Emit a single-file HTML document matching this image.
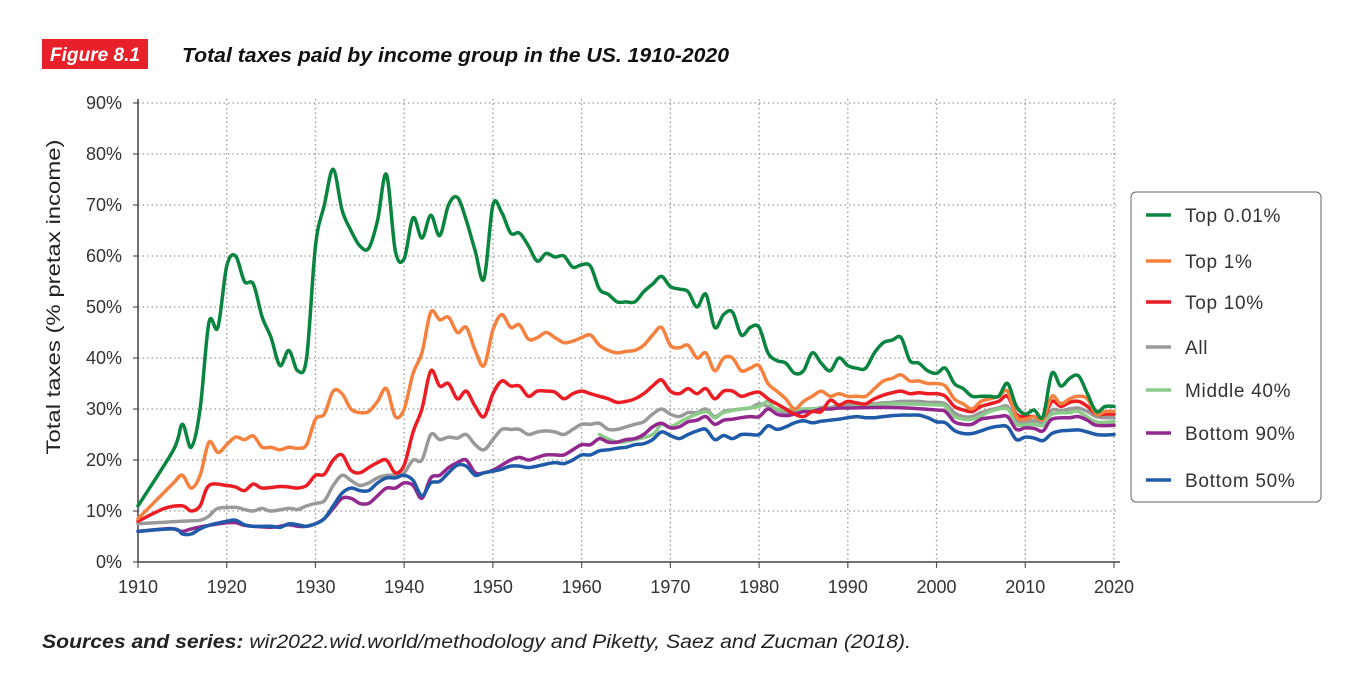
<!DOCTYPE html>
<html><head><meta charset="utf-8">
<style>
body{margin:0;background:#fff;width:1346px;height:682px;overflow:hidden;font-family:"Liberation Sans",sans-serif;}
svg{position:absolute;left:0;top:0}
</style></head>
<body>
<svg id="c" width="1346" height="682">
<rect x="42" y="39" width="106" height="30" fill="#e8202a"/>
<text x="95" y="61" fill="#fff" font-size="19" font-weight="bold" font-style="italic" text-anchor="middle" textLength="90">Figure 8.1</text>
<text x="182" y="62" fill="#111" font-size="20" font-weight="bold" font-style="italic" textLength="547" lengthAdjust="spacingAndGlyphs">Total taxes paid by income group in the US. 1910-2020</text>
<text transform="translate(60,297) rotate(-90)" font-size="19" fill="#222" text-anchor="middle" textLength="315" lengthAdjust="spacingAndGlyphs">Total taxes (% pretax income)</text>
<text x="42" y="648" font-size="19" fill="#222" font-style="italic" textLength="869" lengthAdjust="spacingAndGlyphs"><tspan font-weight="bold">Sources and series:</tspan> wir2022.wid.world/methodology and Piketty, Saez and Zucman (2018).</text>
<g id="grid"></g><g id="lines"></g>
<rect x="1131" y="192" width="190" height="310" rx="5" fill="#fff" stroke="#666" stroke-width="1"/>
<g id="leg"></g>
</svg>
<script>
const yTicks=[0,10,20,30,40,50,60,70,80,90];
const xTicks=[1910,1920,1930,1940,1950,1960,1970,1980,1990,2000,2010,2020];
const top001Y=[1910,1914,1915,1916,1917,1918,1919,1920,1921,1922,1923,1924,1925,1926,1927,1928,1929,1930,1931,1932,1933,1934,1935,1936,1937,1938,1939,1940,1941,1942,1943,1944,1945,1946,1947,1948,1949,1950,1951,1952,1953,1954,1955,1956,1957,1958,1959,1960,1961,1962,1963,1964,1965,1966,1967,1968,1969,1970,1971,1972,1973,1974,1975,1976,1977,1978,1979,1980,1981,1982,1983,1984,1985,1986,1987,1988,1989,1990,1991,1992,1993,1994,1995,1996,1997,1998,1999,2000,2001,2002,2003,2004,2005,2006,2007,2008,2009,2010,2011,2012,2013,2014,2015,2016,2017,2018,2019,2020];
const top001V=[11,22,27,22.5,30,47,46,58,60,55,54.5,48,44,38.5,41.5,37.5,40,62,70,77,69,65,62,61.5,67,76,61,59.5,67.5,63.5,68,64,70,71.5,67,61,55.5,70,68.5,64.5,64.5,62,59,60.5,59.8,60,57.8,58.3,58,53.5,52.5,51,51,51,53,54.5,56,54,53.5,53,50,52.5,46,48.5,49,44.5,46,46,41,39.5,39,37,37.5,41,39,37.5,40,38.5,38,38,41,43,43.5,44,39.5,39,37.5,37,38,35,34,32.5,32.5,32.5,32.5,35,30.5,29,29.8,28.5,37,34.5,36,36.5,33,29.5,30.5,30.5];
const top1Y=[1910,1912,1914,1915,1916,1917,1918,1919,1920,1921,1922,1923,1924,1925,1926,1927,1928,1929,1930,1931,1932,1933,1934,1935,1936,1937,1938,1939,1940,1941,1942,1943,1944,1945,1946,1947,1948,1949,1950,1951,1952,1953,1954,1955,1956,1957,1958,1959,1960,1961,1962,1963,1964,1965,1966,1967,1968,1969,1970,1971,1972,1973,1974,1975,1976,1977,1978,1979,1980,1981,1982,1983,1984,1985,1986,1987,1988,1989,1990,1991,1992,1993,1994,1995,1996,1997,1998,1999,2000,2001,2002,2003,2004,2005,2006,2007,2008,2009,2010,2011,2012,2013,2014,2015,2016,2017,2018,2019,2020];
const top1V=[8.5,12,15.5,17,14.5,17,23.5,21.5,23,24.5,24,24.7,22.5,22.5,22,22.5,22.3,23,28,29,33.5,33,30,29.3,29.5,31.5,34,28.5,30,37,41,49,47.5,48,45,46,41.5,38.5,45.5,48.5,46,46.5,43.7,44,45,44,43,43.3,44,44.5,42.5,41.5,41,41.3,41.5,42.5,44.5,46,42.5,42,42.5,40,41,37.5,40,40,37.5,38,38.5,35,33.5,32,30,31.5,32.5,33.5,32.5,33,32.5,32.5,32.5,34,35.5,36,36.7,35.5,35.5,35,35,34.5,32,31,30,31.5,32,32.5,33.5,28.5,28,28.5,28,32.5,31,32,32.5,32,29,29.5,29.5];
const top10Y=[1910,1913,1915,1916,1917,1918,1920,1921,1922,1923,1924,1926,1927,1928,1929,1930,1931,1932,1933,1934,1935,1936,1937,1938,1939,1940,1941,1942,1943,1944,1945,1946,1947,1948,1949,1950,1951,1952,1953,1954,1955,1956,1957,1958,1959,1960,1961,1962,1963,1964,1965,1966,1967,1968,1969,1970,1971,1972,1973,1974,1975,1976,1977,1978,1979,1980,1981,1982,1983,1984,1985,1986,1987,1988,1989,1990,1991,1992,1993,1994,1995,1996,1997,1998,1999,2000,2001,2002,2003,2004,2005,2006,2007,2008,2009,2010,2011,2012,2013,2014,2015,2016,2017,2018,2019,2020];
const top10V=[8,10.5,11,10,11,15,15,14.7,14,15.3,14.5,14.8,14.7,14.5,15,17,17.2,20,21,18,17.5,18.5,19.5,20,17.5,19,25.5,30,37.5,34.5,35,32,33.5,30.5,28.5,33,35.5,34.5,34.5,32.5,33.5,33.5,33.3,32,33,33.5,33,32.5,32,31.3,31.5,32,33,34.5,35.7,33.5,33,34,33,34,32,33.5,33.5,32.5,33,33.3,32,31,30,29,28.5,29.5,29.5,31.7,30.8,31.5,31.2,31,32,32.7,33.2,33.5,33,33.2,33,33,32.5,30.5,29.8,29.5,30.5,31,31.5,32.5,29,28.5,28.5,28,31.5,30.5,31.3,31.5,30.5,29,29,29];
const allY=[1910,1913,1915,1917,1918,1919,1921,1922,1923,1924,1925,1927,1928,1929,1930,1931,1932,1933,1934,1935,1936,1937,1938,1939,1940,1941,1942,1943,1944,1945,1946,1947,1948,1949,1950,1951,1952,1953,1954,1955,1956,1957,1958,1959,1960,1961,1962,1963,1964,1965,1966,1967,1968,1969,1970,1971,1972,1973,1974,1975,1976,1977,1978,1979,1980,1981,1982,1983,1984,1985,1986,1987,1988,1989,1990,1991,1992,1993,1994,1995,1996,1997,1998,1999,2000,2001,2002,2003,2004,2005,2006,2007,2008,2009,2010,2011,2012,2013,2014,2015,2016,2017,2018,2019,2020];
const allV=[7.5,7.8,8,8.2,9,10.5,10.7,10.3,10,10.5,10,10.5,10.3,11,11.5,12,15,17,16,15,15.5,16.5,17,17,17.5,20,20,25,24,24.5,24.3,25,23,22,24,26,26,26,25,25.5,25.7,25.5,25,26,27,27,27.2,26,26,26.5,27,27.5,29,30,29,28.5,29.3,29.3,30,28.5,29.5,29.8,30,30.2,31,30.5,29.8,29.3,29.5,29.7,29.8,30.3,30.3,30.7,30.8,30.8,30.8,31,31.2,31.3,31.5,31.5,31.5,31.3,31.3,31,29.3,28.5,28.5,29.3,29.8,30.2,30.5,27.8,27.5,27.7,27.5,29.8,29.7,30,30.2,29.5,28.5,28.3,28.3];
const mid40Y=[1962,1964,1966,1968,1969,1970,1972,1974,1975,1976,1978,1980,1981,1982,1985,1990,1995,2000,2001,2002,2004,2006,2008,2009,2011,2012,2013,2015,2016,2018,2020];
const mid40V=[25,23.5,24,25,27,26.5,28.3,29.5,28.3,29.3,30,30.5,31.5,30,30,30.3,31,30.8,30.5,28.5,28,29.5,30,27,27,26.8,29,29.3,29.5,27.5,27.5];
const bot90Y=[1910,1913,1914,1915,1916,1918,1920,1921,1922,1923,1925,1926,1927,1928,1929,1930,1931,1932,1933,1934,1935,1936,1937,1938,1939,1940,1941,1942,1943,1944,1945,1946,1947,1948,1949,1950,1951,1952,1953,1954,1955,1956,1957,1958,1959,1960,1961,1962,1963,1964,1965,1966,1967,1968,1969,1970,1971,1972,1973,1974,1975,1976,1977,1978,1979,1980,1981,1982,1983,1984,1985,1986,1987,1988,1989,1990,1995,2000,2001,2002,2003,2004,2005,2006,2007,2008,2009,2010,2011,2012,2013,2015,2016,2017,2018,2020];
const bot90V=[6,6.5,6.5,6,6.5,7.2,7.7,7.7,7.2,7,6.8,7,7.3,7,7,7.5,8.5,10.5,12.5,12.5,11.5,11.5,13,14.5,14.5,15.5,15,12.5,16.5,17,18.5,19.5,20,17.5,17.5,18,19,20,20.5,20,20.5,21,21,21,22,23,23,24.2,23.5,23.5,24,24.2,25,26.5,27.2,26.3,26.5,27.5,27.8,28.5,27,27.8,28,28.3,28.5,28.5,30,29,28.7,29,29.5,29.5,30,30,30.2,30.2,30.3,29.8,29.5,27.5,27,27,28,28.3,28.5,28.5,26,26.3,26.2,25.7,28,28.3,28.5,27.8,26.8,26.8];
const bot50Y=[1910,1914,1915,1916,1917,1918,1920,1921,1922,1923,1925,1926,1927,1928,1929,1930,1931,1932,1933,1934,1935,1936,1937,1938,1939,1940,1941,1942,1943,1944,1945,1946,1947,1948,1949,1950,1951,1952,1953,1954,1955,1956,1957,1958,1959,1960,1961,1962,1963,1964,1965,1966,1967,1968,1969,1970,1971,1972,1973,1974,1975,1976,1977,1978,1979,1980,1981,1982,1983,1984,1985,1986,1987,1988,1989,1990,1991,1992,1993,1994,1995,1996,1997,1998,1999,2000,2001,2002,2003,2004,2005,2006,2007,2008,2009,2010,2011,2012,2013,2014,2015,2016,2017,2018,2019,2020];
const bot50V=[6,6.5,5.5,5.5,6.5,7.2,8,8.2,7.3,7,7,6.8,7.5,7.3,7,7.5,8.5,11,13.5,14.5,14,14,15.5,16.5,16.5,17,16,13,15.5,15.8,17.5,19,18.8,17,17.5,17.8,18.2,18.8,18.8,18.5,18.8,19.2,19.5,19.3,20,21,21,21.8,22,22.3,22.5,23,23.2,24,25.5,24.8,24.2,25,25.7,26,24,24.8,24.2,25,25,25,26.7,26,26.5,27.3,27.7,27.3,27.6,27.8,28,28.3,28.5,28.3,28.3,28.5,28.7,28.8,28.8,28.8,28.3,27.5,27.3,25.8,25.2,25.2,25.7,26.3,26.6,26.5,24,24.5,24.3,23.8,25.2,25.7,25.8,25.9,25.5,25,24.9,25];
const seriesNames=["Top 0.01%","Top 1%","Top 10%","All","Middle 40%","Bottom 90%","Bottom 50%"];

const X0=138,X1=1114,Y0=562,Y1=103;
const xs=y=>X0+(y-1910)/(2020-1910)*(X1-X0);
const ys=v=>Y0-v/90*(Y0-Y1);
const NS="http://www.w3.org/2000/svg";
function mk(tag,attrs,parent){const e=document.createElementNS(NS,tag);for(const k in attrs)e.setAttribute(k,attrs[k]);parent.appendChild(e);return e;}
const grid=document.getElementById('grid');
yTicks.forEach(t=>{
  const y=ys(t);
  if(t>0){const l=mk('line',{x1:X0,x2:X1+4,y1:y,y2:y,stroke:'#999','stroke-width':1.3,'stroke-dasharray':'1.5 3'},grid);
  
  }
  const tk=mk('line',{x1:X0-5,x2:X0,y1:y,y2:y,stroke:'#555','stroke-width':1.2},grid);
  
  
  const tx=mk('text',{x:122,y:y+6,'font-size':18,fill:'#333','text-anchor':'end'},grid);
  tx.textContent=t+'%';
  
  
});
xTicks.forEach(t=>{
  const x=xs(t);
  if(t>1910){const l=mk('line',{x1:x,x2:x,y1:Y1-4,y2:Y0,stroke:'#999','stroke-width':1.3,'stroke-dasharray':'1.5 3'},grid);
  
  }
  const tk=mk('line',{x1:x,x2:x,y1:Y0,y2:Y0+6,stroke:'#555','stroke-width':1.2},grid);
  
  
  const tx=mk('text',{x:x,y:Y0+31,'font-size':18,fill:'#333','text-anchor':'middle'},grid);
  tx.textContent=t;
  
  
});
const ax=mk('path',{d:`M${X0},${Y1-4}V${Y0}H${X1+6}`,fill:'none',stroke:'#444','stroke-width':1.5},grid);



function smooth(pts){let d=`M${pts[0][0].toFixed(1)},${pts[0][1].toFixed(1)}`;
  for(let i=0;i<pts.length-1;i++){const p0=pts[Math.max(0,i-1)],p1=pts[i],p2=pts[i+1],p3=pts[Math.min(pts.length-1,i+2)];
    const c1=[p1[0]+(p2[0]-p0[0])/6,p1[1]+(p2[1]-p0[1])/6],c2=[p2[0]-(p3[0]-p1[0])/6,p2[1]-(p3[1]-p1[1])/6];
    d+=`C${c1[0].toFixed(1)},${c1[1].toFixed(1)} ${c2[0].toFixed(1)},${c2[1].toFixed(1)} ${p2[0].toFixed(1)},${p2[1].toFixed(1)}`;}
  return d;}
const series=[[top001Y,top001V,'#0a8540','line-top-0-01'],[top1Y,top1V,'#f5813f','line-top-1'],[top10Y,top10V,'#ec1c24','line-top-10'],[allY,allV,'#999999','line-all'],[mid40Y,mid40V,'#8ccc8a','line-middle-40'],[bot90Y,bot90V,'#93298e','line-bottom-90'],[bot50Y,bot50V,'#1f5ba8','line-bottom-50']];
const lg=document.getElementById('lines');
const order=[3,4,5,6,2,1,0];
order.forEach(i=>{const s=series[i];
  const pts=s[0].map((y,j)=>[xs(y),ys(s[1][j])]);
  const p=mk('path',{d:smooth(pts),fill:'none',stroke:s[2],'stroke-width':3.5,'stroke-linejoin':'round','stroke-linecap':'round'},lg);
  
  
});
const leg=document.getElementById('leg');
const legY=[215,261,302,347,390,433,480];
seriesNames.forEach((n,i)=>{
  const l=mk('line',{x1:1146,x2:1171,y1:legY[i],y2:legY[i],stroke:series[i][2],'stroke-width':3.5},leg);
  
  
  const t=mk('text',{x:1185,y:legY[i]+7,'font-size':19,'letter-spacing':0.7,fill:'#333'},leg);
  t.textContent=n;
  
  
});
</script>
</body></html>
